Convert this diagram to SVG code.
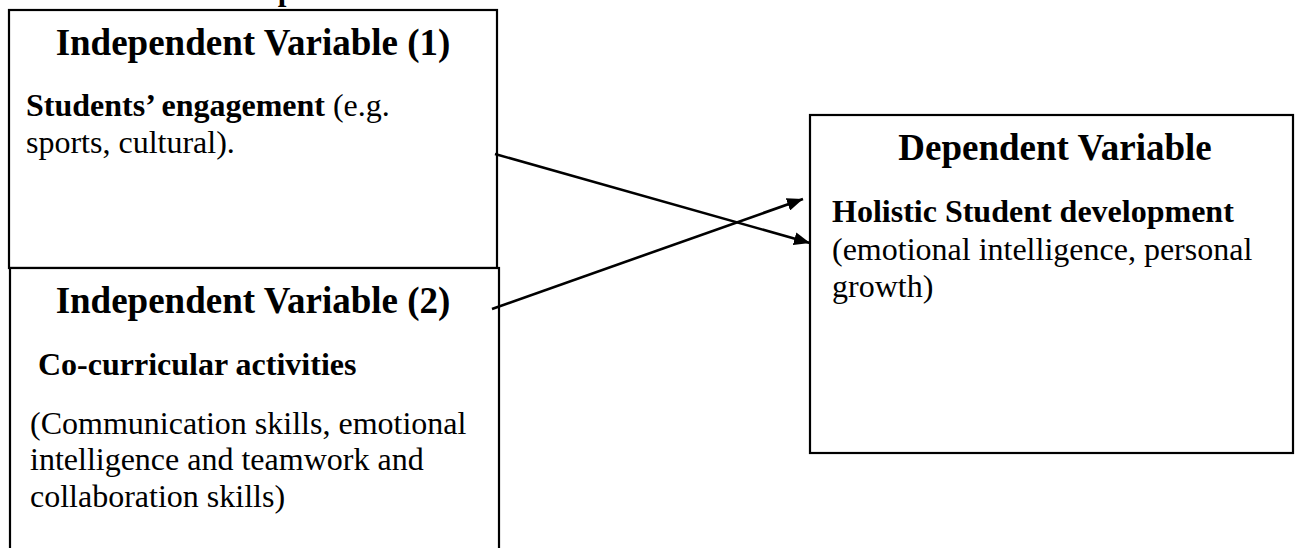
<svg xmlns="http://www.w3.org/2000/svg" width="1302" height="548" viewBox="0 0 1302 548">
<defs>
<style>
.box{fill:#fff;stroke:#000;stroke-width:2.2}
.h{font-family:"Liberation Serif","Times New Roman",serif;font-weight:bold;font-size:37px;fill:#000}
.b{font-family:"Liberation Serif","Times New Roman",serif;font-size:32px;fill:#000}
.bb{font-weight:bold}
.title{font-family:"Liberation Serif","Times New Roman",serif;font-weight:bold;font-size:31px;fill:#000}
.conn{stroke:#000;stroke-width:2.6;fill:none}
</style>
<marker id="arrow" viewBox="0 0 16 13" refX="16" refY="6.5" markerWidth="16" markerHeight="13" markerUnits="userSpaceOnUse" orient="auto">
<path d="M0,0 L16,6.5 L0,13 z" fill="#000"/>
</marker>
</defs>
<rect width="1302" height="548" fill="#fff"/>
<text class="title" x="4" y="0">Illustration of Conceptual Framework</text>
<g id="iv1">
<rect class="box" x="9" y="10" width="488" height="258"/>
<text class="h" x="253" y="55" text-anchor="middle">Independent Variable (1)</text>
<text class="b" x="26" y="116"><tspan class="bb">Students’ engagement</tspan> (e.g.</text>
<text class="b" x="26" y="153">sports, cultural).</text>
</g>
<g id="iv2">
<rect class="box" x="10" y="268" width="489" height="300"/>
<text class="h" x="253" y="313" text-anchor="middle">Independent Variable (2)</text>
<text class="b bb" x="38" y="375">Co-curricular activities</text>
<text class="b" x="30" y="434">(Communication skills, emotional</text>
<text class="b" x="30" y="470">intelligence and teamwork and</text>
<text class="b" x="30" y="507">collaboration skills)</text>
</g>
<g id="dv">
<rect class="box" x="810" y="115" width="483" height="338"/>
<text class="h" x="1055" y="160" text-anchor="middle">Dependent Variable</text>
<text class="b bb" x="832" y="222">Holistic Student development</text>
<text class="b" x="832" y="260">(emotional intelligence, personal</text>
<text class="b" x="832" y="297">growth)</text>
</g>
<g id="connectors">
<line class="conn" x1="495" y1="154" x2="810" y2="243" marker-end="url(#arrow)"/>
<line class="conn" x1="492" y1="309" x2="803" y2="199" marker-end="url(#arrow)"/>
</g>
</svg>
